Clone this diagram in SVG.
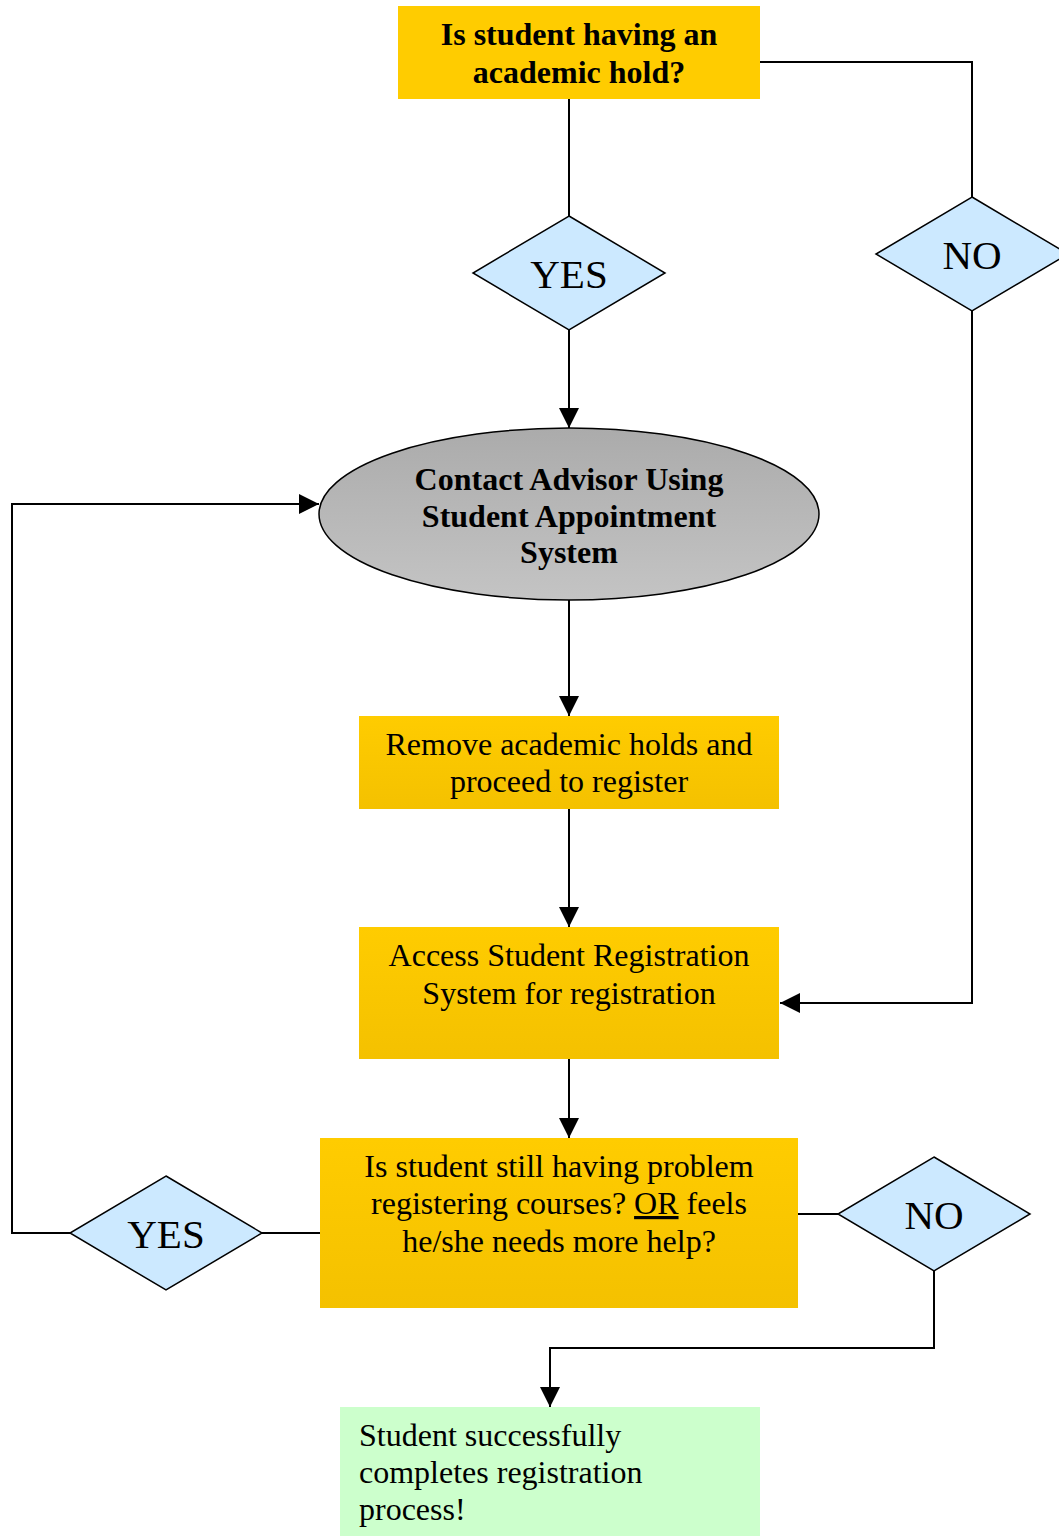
<svg xmlns="http://www.w3.org/2000/svg" width="1059" height="1536" viewBox="0 0 1059 1536">
  <style>
    text { font-family: 'Liberation Serif', 'Times New Roman', serif; fill: #000; }
    .b { font-weight: bold; font-size: 32px; }
    .r { font-size: 32px; }
    .d { font-size: 41px; }
    .dia { fill: #CCE9FF; stroke: #000; stroke-width: 1.5; }
    .ln { fill: none; stroke: #000; stroke-width: 2; }
  </style>
  <defs>
    <linearGradient id="gold" x1="0" y1="0" x2="0" y2="1">
      <stop offset="0" stop-color="#FFCC00"/>
      <stop offset="1" stop-color="#F4C100"/>
    </linearGradient>
    <linearGradient id="grey" x1="0" y1="0" x2="0" y2="1">
      <stop offset="0" stop-color="#ABABAB"/>
      <stop offset="1" stop-color="#C4C4C4"/>
    </linearGradient>
    <marker id="ah" viewBox="0 0 20 20" refX="20" refY="10" markerWidth="20" markerHeight="20" markerUnits="userSpaceOnUse" orient="auto">
      <path d="M0,0 L20,10 L0,20 Z" fill="#000"/>
    </marker>
  </defs>

  <!-- connectors -->
  <g id="connectors">
    <path class="ln" d="M569,99 V216"/>
    <path class="ln" d="M569,330 V428" marker-end="url(#ah)"/>
    <path class="ln" d="M760,62 H972 V197"/>
    <path class="ln" d="M972,311 V1003 H780" marker-end="url(#ah)"/>
    <path class="ln" d="M569,600 V716" marker-end="url(#ah)"/>
    <path class="ln" d="M569,809 V927" marker-end="url(#ah)"/>
    <path class="ln" d="M569,1059 V1138" marker-end="url(#ah)"/>
    <path class="ln" d="M262,1233 H320"/>
    <path class="ln" d="M70,1233 H12 V504 H319" marker-end="url(#ah)"/>
    <path class="ln" d="M798,1214 H838"/>
    <path class="ln" d="M934,1271 V1348 H550 V1407" marker-end="url(#ah)"/>
  </g>

  <g id="q-hold">
    <rect x="398" y="6" width="362" height="93" fill="#FFCC00"/>
    <text class="b" text-anchor="middle" x="579" y="45">Is student having an</text>
    <text class="b" text-anchor="middle" x="579" y="83">academic hold?</text>
  </g>

  <g id="yes-top">
    <polygon class="dia" points="569,216 665,273 569,330 473,273"/>
    <text class="d" text-anchor="middle" x="569" y="288">YES</text>
  </g>

  <g id="no-top">
    <polygon class="dia" points="972,197 1068,254 972,311 876,254"/>
    <text class="d" text-anchor="middle" x="972" y="269">NO</text>
  </g>

  <g id="contact-advisor">
    <ellipse cx="569" cy="514" rx="250" ry="86" fill="url(#grey)" stroke="#000" stroke-width="1.5"/>
    <text class="b" text-anchor="middle" x="569" y="490">Contact Advisor Using</text>
    <text class="b" text-anchor="middle" x="569" y="527">Student Appointment</text>
    <text class="b" text-anchor="middle" x="569" y="563">System</text>
  </g>

  <g id="remove-holds">
    <rect x="359" y="716" width="420" height="93" fill="url(#gold)"/>
    <text class="r" text-anchor="middle" x="569" y="755">Remove academic holds and</text>
    <text class="r" text-anchor="middle" x="569" y="792">proceed to register</text>
  </g>

  <g id="access-system">
    <rect x="359" y="927" width="420" height="132" fill="url(#gold)"/>
    <text class="r" text-anchor="middle" x="569" y="966">Access Student Registration</text>
    <text class="r" text-anchor="middle" x="569" y="1004">System for registration</text>
  </g>

  <g id="q-problem">
    <rect x="320" y="1138" width="478" height="170" fill="url(#gold)"/>
    <text class="r" text-anchor="middle" x="559" y="1177">Is student still having problem</text>
    <text class="r" text-anchor="middle" x="559" y="1214">registering courses? <tspan text-decoration="underline">OR</tspan> feels</text>
    <text class="r" text-anchor="middle" x="559" y="1252">he/she needs more help?</text>
  </g>

  <g id="yes-bottom">
    <polygon class="dia" points="166,1176 262,1233 166,1290 70,1233"/>
    <text class="d" text-anchor="middle" x="166" y="1248">YES</text>
  </g>

  <g id="no-bottom">
    <polygon class="dia" points="934,1157 1030,1214 934,1271 838,1214"/>
    <text class="d" text-anchor="middle" x="934" y="1229">NO</text>
  </g>

  <g id="complete">
    <rect x="340" y="1407" width="420" height="129" fill="#CCFFCC"/>
    <text class="r" x="359" y="1446">Student successfully</text>
    <text class="r" x="359" y="1483">completes registration</text>
    <text class="r" x="359" y="1520">process!</text>
  </g>
</svg>
